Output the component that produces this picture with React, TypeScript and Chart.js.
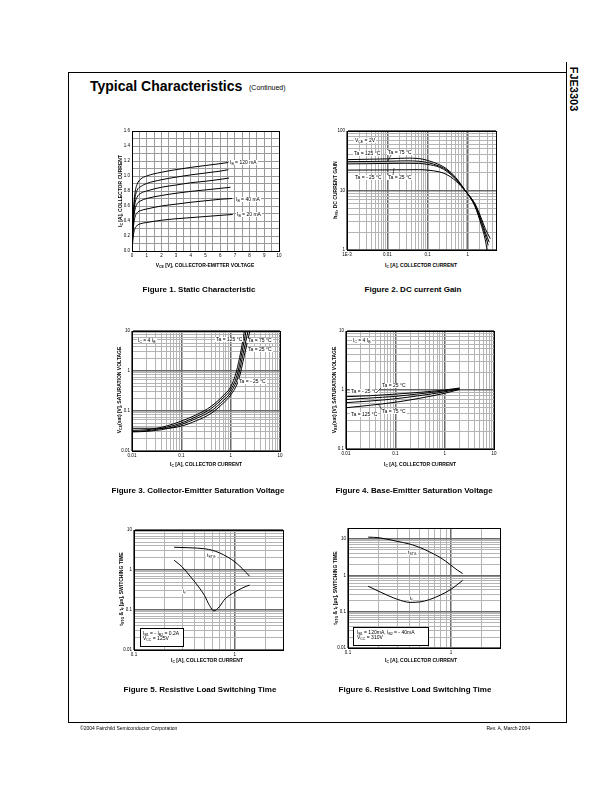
import React, { useEffect, useRef } from 'react';
import { Chart, registerables } from 'chart.js';
Chart.register(...registerables);

const FONT = '"Liberation Sans", Arial, Helvetica, sans-serif';

// ---------- Figure 1: Static characteristic ----------
const f1Vce = [0, 0.05, 0.1, 0.2, 0.35, 0.6, 1, 2, 3, 4, 5, 6];
const f1EndVce = [6.85, 6.8, 6.7, 6.6, 6.55, 6.55]; // IB = 20..120 mA
const f1Ib20 = [0, 0.12, 0.22, 0.3, 0.34, 0.365, 0.38, 0.41, 0.43, 0.445, 0.46, 0.475, 0.487];
const f1Ib40 = [0, 0.2, 0.33, 0.45, 0.51, 0.54, 0.56, 0.6, 0.625, 0.65, 0.67, 0.69, 0.7];
const f1Ib60 = [0, 0.25, 0.4, 0.55, 0.63, 0.67, 0.7, 0.74, 0.77, 0.795, 0.815, 0.835, 0.85];
const f1Ib80 = [0, 0.28, 0.45, 0.63, 0.72, 0.77, 0.8, 0.85, 0.88, 0.91, 0.93, 0.955, 0.973];
const f1Ib100 = [0, 0.3, 0.5, 0.7, 0.81, 0.86, 0.9, 0.95, 0.985, 1.015, 1.04, 1.065, 1.084];
const f1Ib120 = [0, 0.33, 0.55, 0.77, 0.89, 0.96, 1.0, 1.05, 1.085, 1.115, 1.14, 1.165, 1.18];
const f1XTicks = [0, 1, 2, 3, 4, 5, 6, 7, 8, 9, 10];
const f1XLabels = ['0', '1', '2', '3', '4', '5', '6', '7', '8', '9', '10'];
const f1YTicks = [0, 0.2, 0.4, 0.6, 0.8, 1.0, 1.2, 1.4, 1.6];
const f1YLabels = ['0.0', '0.2', '0.4', '0.6', '0.8', '1.0', '1.2', '1.4', '1.6'];

// ---------- Figure 2: DC current gain ----------
const f2Ic = [0.001, 0.003, 0.01, 0.03, 0.06, 0.1, 0.2, 0.3, 0.5, 0.86, 1.5, 2.2, 2.7];
const f2EndIc = [3.0, 3.2, 3.4, 3.6]; // 125, 75, 25, -25 °C
const f2H125 = [33, 33.5, 34, 35, 34.5, 32, 27, 23, 16.5, 10, 5.4, 2.5, 1.5, 1.0];
const f2H75 = [30.5, 30.7, 31, 31.5, 31, 29.5, 25.5, 22, 16, 10, 5.6, 2.8, 1.8, 1.2];
const f2H25 = [28, 28.2, 28.5, 28.7, 28.5, 27.5, 24.5, 21, 15.5, 10, 5.8, 3.0, 2.0, 1.35];
const f2Hm25 = [22, 22.1, 22.2, 22.3, 22.4, 22, 20.5, 18.5, 14.5, 9.8, 6.0, 3.3, 2.3, 1.55];
const f2XTicks = [0.001, 0.01, 0.1, 1];
const f2XLabels = ['1E-3', '0.01', '0.1', '1'];
const f2YTicks = [1, 10, 100];
const f2YLabels = ['1', '10', '100'];

// ---------- Figure 3: VCE(sat) ----------
const f3Ic125 = [0.01, 0.02, 0.05, 0.1, 0.2, 0.4, 0.7, 1, 1.3, 1.6, 1.9];
const f3V125 = [0.033, 0.034, 0.042, 0.056, 0.08, 0.13, 0.24, 0.4, 0.95, 3, 10];
const f3Ic75 = [0.01, 0.02, 0.05, 0.1, 0.2, 0.4, 0.7, 1, 1.35, 1.7, 2.05];
const f3V75 = [0.031, 0.032, 0.039, 0.05, 0.072, 0.115, 0.21, 0.34, 0.8, 3, 10];
const f3Ic25 = [0.01, 0.02, 0.05, 0.1, 0.2, 0.4, 0.7, 1, 1.4, 1.8, 2.25];
const f3V25 = [0.03, 0.031, 0.036, 0.046, 0.065, 0.1, 0.18, 0.29, 0.7, 2.8, 10];
const f3Icm25 = [0.01, 0.02, 0.05, 0.1, 0.2, 0.4, 0.7, 1, 1.45, 1.9, 2.45];
const f3Vm25 = [0.037, 0.037, 0.037, 0.042, 0.057, 0.087, 0.155, 0.25, 0.6, 2.5, 10];
const f3XTicks = [0.01, 0.1, 1, 10];
const f3XLabels = ['0.01', '0.1', '1', '10'];
const f3YTicks = [0.01, 0.1, 1, 10];
const f3YLabels = ['0.01', '0.1', '1', '10'];

// ---------- Figure 4: VBE(sat) ----------
const f4Ic = [0.01, 0.03, 0.1, 0.3, 1, 2];
const f4Vm25 = [0.77, 0.8, 0.85, 0.91, 1.0, 1.08];
const f4V25 = [0.69, 0.73, 0.78, 0.86, 0.97, 1.06];
const f4V75 = [0.61, 0.65, 0.71, 0.8, 0.93, 1.04];
const f4V125 = [0.5, 0.55, 0.62, 0.72, 0.88, 1.02];
const f4XTicks = [0.01, 0.1, 1, 10];
const f4XLabels = ['0.01', '0.1', '1', '10'];
const f4YTicks = [0.1, 1, 10];
const f4YLabels = ['0.1', '1', '10'];

// ---------- Figure 5: switching time (IB1 = -IB2 = 0.2A) ----------
const f5IcStg = [0.25, 0.35, 0.5, 0.6, 0.7, 0.85, 1, 1.2, 1.4];
const f5Tstg = [3.7, 3.6, 3.4, 3.1, 2.7, 2.1, 1.6, 1.05, 0.7];
const f5IcF = [0.25, 0.3, 0.36, 0.43, 0.5, 0.56, 0.62, 0.7, 0.8, 1, 1.2, 1.4];
const f5Tf = [1.75, 1.2, 0.7, 0.4, 0.23, 0.13, 0.095, 0.12, 0.19, 0.28, 0.36, 0.42];
const f5XTicks = [0.1, 1];
const f5XLabels = ['0.1', '1'];
const f5YTicks = [0.01, 0.1, 1, 10];
const f5YLabels = ['0.01', '0.1', '1', '10'];

// ---------- Figure 6: switching time (IB1 = 120mA, IB2 = -40mA) ----------
const f6IcStg = [0.157, 0.2, 0.3, 0.4, 0.5, 0.6, 0.8, 1, 1.15, 1.3];
const f6Tstg = [11.2, 10.8, 8.6, 7.2, 5.8, 4.6, 3, 1.9, 1.4, 1.12];
const f6IcF = [0.157, 0.2, 0.25, 0.3, 0.4, 0.5, 0.62, 0.8, 1, 1.15, 1.3];
const f6Tf = [0.5, 0.36, 0.27, 0.22, 0.18, 0.185, 0.215, 0.29, 0.41, 0.55, 0.72];
const f6XTicks = [0.1, 1];
const f6XLabels = ['0.1', '1'];
const f6YTicks = [0.01, 0.1, 1, 10];
const f6YLabels = ['0.01', '0.1', '1', '10'];

// ---------- helpers ----------
type Axis = { type: 'linear' | 'logarithmic'; min: number; max: number; grid: number[]; ticks: number[]; labels: string[] };
type Series = { x: number[]; y: number[] };

const linGrid = (min: number, max: number, step: number) => {
  const a: number[] = [];
  for (let i = 0; min + i * step <= max + 1e-9; i++) a.push(+(min + i * step).toFixed(6));
  return a;
};
const logGrid = (min: number, max: number) => {
  const a: number[] = [];
  for (let e = Math.floor(Math.log10(min)); e <= Math.ceil(Math.log10(max)); e++)
    for (let m = 1; m < 10; m++) {
      const v = +(m * Math.pow(10, e)).toPrecision(6);
      if (v >= min * (1 - 1e-9) && v <= max * (1 + 1e-9)) a.push(v);
    }
  return a;
};
const isDecade = (v: number) => Math.abs(Math.log10(v) - Math.round(Math.log10(v))) < 1e-6;
const zip = (xs: number[], ys: number[]) => xs.map((x, i) => ({ x, y: ys[i] }));

const PAD_L = 18, PAD_R = 8, PAD_T = 6, PAD_B = 10;

function Plot(p: { left: number; top: number; w: number; h: number; xa: Axis; ya: Axis; series: Series[] }) {
  const ref = useRef<HTMLCanvasElement>(null);
  const cw = p.w + PAD_L + PAD_R;
  const ch = p.h + PAD_T + PAD_B;
  useEffect(() => {
    const mkAxis = (a: Axis, isX: boolean) => ({
      type: a.type,
      min: a.min,
      max: a.max,
      position: isX ? 'bottom' : 'left',
      afterBuildTicks: (s: any) => {
        s.ticks = a.grid.map((v) => ({ value: v }));
      },
      afterFit: (s: any) => {
        if (isX) s.height = PAD_B;
        else s.width = PAD_L;
      },
      ticks: {
        autoSkip: false,
        maxRotation: 0,
        minRotation: 0,
        padding: 2,
        color: '#000',
        font: { family: FONT, size: 4.5 },
        callback: (v: any) => {
          const n = Number(v);
          const i = a.ticks.findIndex((t) => Math.abs(t - n) <= Math.abs(t) * 1e-6 + 1e-9);
          return i >= 0 ? a.labels[i] : '';
        },
      },
      grid: {
        drawTicks: false,
        color: (c: any) => {
          if (a.type === 'linear') return '#9a9a9a';
          const v = c.tick ? c.tick.value : 1;
          return isDecade(v) ? '#6a6a6a' : '#b4b4b4';
        },
        lineWidth: (c: any) => {
          if (a.type === 'linear') return 1;
          const v = c.tick ? c.tick.value : 1;
          return isDecade(v) ? 1.5 : 1;
        },
      },
      border: { display: true, color: '#000', width: 1 },
    });
    const frame = {
      id: 'frame',
      afterDraw(c: any) {
        const { left, top, right, bottom } = c.chartArea;
        const ctx = c.ctx;
        ctx.save();
        ctx.strokeStyle = '#000';
        ctx.lineWidth = 1;
        ctx.strokeRect(Math.round(left) + 0.5, Math.round(top) + 0.5, Math.round(right - left), Math.round(bottom - top));
        ctx.restore();
      },
    };
    const chart = new Chart(ref.current as HTMLCanvasElement, {
      type: 'line',
      data: {
        datasets: p.series.map((s) => ({
          data: zip(s.x, s.y),
          borderColor: '#000',
          borderWidth: 1,
          pointRadius: 0,
          fill: false,
          cubicInterpolationMode: 'monotone',
        })),
      },
      options: {
        responsive: false,
        animation: false,
        layout: { padding: { top: PAD_T, right: PAD_R, left: 0, bottom: 0 } },
        plugins: { legend: { display: false }, tooltip: { enabled: false }, title: { display: false } },
        scales: { x: mkAxis(p.xa, true), y: mkAxis(p.ya, false) } as any,
      } as any,
      plugins: [frame],
    } as any);
    return () => chart.destroy();
  }, []);
  return (
    <canvas
      ref={ref}
      width={cw}
      height={ch}
      style={{ position: 'absolute', left: p.left - PAD_L, top: p.top - PAD_T, width: cw, height: ch }}
    />
  );
}

const Sub = ({ c }: { c: string }) => (
  <sub style={{ fontSize: '0.7em', verticalAlign: '-0.3em', lineHeight: 0 }}>{c}</sub>
);

function Txt(props: {
  x: number; y: number; size?: number; bold?: boolean; bg?: boolean; align?: 'left' | 'center' | 'right';
  children: React.ReactNode; style?: React.CSSProperties;
}) {
  const size = props.size ?? 5;
  const align = props.align ?? 'left';
  const tx = align === 'center' ? 'translateX(-50%)' : align === 'right' ? 'translateX(-100%)' : '';
  return (
    <div
      style={{
        position: 'absolute',
        left: props.x,
        top: props.y - size / 2,
        fontSize: size,
        lineHeight: 1,
        fontFamily: FONT,
        fontWeight: props.bold ? 'bold' : 'normal',
        whiteSpace: 'nowrap',
        background: props.bg ? '#fff' : 'transparent',
        padding: props.bg ? '0 1px' : 0,
        transform: tx,
        color: '#000',
        ...props.style,
      }}
    >
      {props.children}
    </div>
  );
}

function VTitle(props: { x: number; y: number; children: React.ReactNode }) {
  return (
    <div
      style={{
        position: 'absolute',
        left: props.x,
        top: props.y,
        fontSize: 5,
        lineHeight: 1,
        fontFamily: FONT,
        fontWeight: 'bold',
        whiteSpace: 'nowrap',
        transform: 'translate(-50%, -50%) rotate(-90deg)',
      }}
    >
      {props.children}
    </div>
  );
}

const Line = (p: { x: number; y: number; w: number; h: number }) => (
  <div style={{ position: 'absolute', left: p.x, top: p.y, width: p.w, height: p.h, background: '#000' }} />
);

// leader lines from annotation labels to the curves (page coordinates)
const leaders: [number, number, number, number][] = [
  [391, 155, 388, 161],
  [393, 175, 394, 168],
  [381, 388, 377, 392],
  [382, 409.5, 378, 404],
];

export default function App() {
  const f1x = (i: number) => [...f1Vce, f1EndVce[i]];
  const f2x = (i: number) => [...f2Ic, f2EndIc[i]];
  return (
    <div style={{ position: 'absolute', left: 0, top: 0, width: 612, height: 792, background: '#fff', overflow: 'hidden' }}>
      {/* page frame */}
      <Line x={68} y={72} w={498} h={1} />
      <Line x={68} y={72} w={1} h={651} />
      <Line x={566} y={62} w={1} h={661} />
      <Line x={68} y={722} w={499} h={1} />
      <div
        style={{
          position: 'absolute', left: 573, top: 89, fontFamily: FONT, fontWeight: 'bold', fontSize: 11,
          lineHeight: 1, whiteSpace: 'nowrap', transform: 'translate(-50%, -50%) rotate(90deg)',
        }}
      >
        FJE3303
      </div>
      <div style={{ position: 'absolute', left: 90, top: 79, fontFamily: FONT, fontWeight: 'bold', fontSize: 14, lineHeight: 1, whiteSpace: 'nowrap' }}>
        Typical Characteristics
      </div>
      <div style={{ position: 'absolute', left: 249, top: 84, fontFamily: FONT, fontSize: 7, lineHeight: 1, whiteSpace: 'nowrap', color: '#000' }}>
        (Continued)
      </div>

      {/* Figure 1 */}
      <Plot
        left={132} top={131} w={147} h={120}
        xa={{ type: 'linear', min: 0, max: 10, grid: linGrid(0, 10, 0.5), ticks: f1XTicks, labels: f1XLabels }}
        ya={{ type: 'linear', min: 0, max: 1.6, grid: linGrid(0, 1.6, 0.1), ticks: f1YTicks, labels: f1YLabels }}
        series={[
          { x: f1x(0), y: f1Ib20 }, { x: f1x(1), y: f1Ib40 }, { x: f1x(2), y: f1Ib60 },
          { x: f1x(3), y: f1Ib80 }, { x: f1x(4), y: f1Ib100 }, { x: f1x(5), y: f1Ib120 },
        ]}
      />
      <Txt x={229} y={162.5} bg>I<Sub c="B" /> = 120 mA</Txt>
      <Txt x={235} y={199} bg>I<Sub c="B" /> = 40 mA</Txt>
      <Txt x={236} y={214.5} bg>I<Sub c="B" /> = 20 mA</Txt>
      <Txt x={205} y={265} bold align="center">V<Sub c="CE" /> [V], COLLECTOR-EMITTER VOLTAGE</Txt>
      <VTitle x={120} y={191}>I<Sub c="C" /> [A], COLLECTOR CURRENT</VTitle>
      <Txt x={199} y={290} size={8} bold align="center">Figure 1. Static Characteristic</Txt>

      {/* Figure 2 */}
      <Plot
        left={347} top={131} w={149} h={119}
        xa={{ type: 'logarithmic', min: 0.001, max: 5, grid: logGrid(0.001, 5), ticks: f2XTicks, labels: f2XLabels }}
        ya={{ type: 'logarithmic', min: 1, max: 100, grid: logGrid(1, 100), ticks: f2YTicks, labels: f2YLabels }}
        series={[
          { x: f2x(0), y: f2H125 }, { x: f2x(1), y: f2H75 }, { x: f2x(2), y: f2H25 }, { x: f2x(3), y: f2Hm25 },
        ]}
      />
      <Txt x={354} y={140} bg>V<Sub c="CE" /> = 2V</Txt>
      <Txt x={353} y={153} bg>Ta = 125 °C</Txt>
      <Txt x={387} y={152} bg>Ta = 75 °C</Txt>
      <Txt x={354} y={177} bg>Ta = - 25 °C</Txt>
      <Txt x={387} y={177.5} bg>Ta = 25 °C</Txt>
      <Txt x={421} y={265} bold align="center">I<Sub c="C" /> [A], COLLECTOR CURRENT</Txt>
      <VTitle x={335} y={190}>h<Sub c="FE" />, DC CURRENT GAIN</VTitle>
      <Txt x={413} y={290} size={8} bold align="center">Figure 2. DC current Gain</Txt>

      {/* Figure 3 */}
      <Plot
        left={132} top={331} w={148} h={120}
        xa={{ type: 'logarithmic', min: 0.01, max: 10, grid: logGrid(0.01, 10), ticks: f3XTicks, labels: f3XLabels }}
        ya={{ type: 'logarithmic', min: 0.01, max: 10, grid: logGrid(0.01, 10), ticks: f3YTicks, labels: f3YLabels }}
        series={[
          { x: f3Ic125, y: f3V125 }, { x: f3Ic75, y: f3V75 }, { x: f3Ic25, y: f3V25 }, { x: f3Icm25, y: f3Vm25 },
        ]}
      />
      <Txt x={137} y={340.5} bg>I<Sub c="C" /> = 4 I<Sub c="B" /></Txt>
      <Txt x={215} y={339} bg>Ta = 125 °C</Txt>
      <Txt x={247} y={340} bg>Ta = 75 °C</Txt>
      <Txt x={247} y={349} bg>Ta = 25 °C</Txt>
      <Txt x={238} y={381.7} bg>Ta = - 25 °C</Txt>
      <Txt x={206} y={464} bold align="center">I<Sub c="C" /> [A], COLLECTOR CURRENT</Txt>
      <VTitle x={119} y={390}>V<Sub c="CE" />(sat) [V], SATURATION VOLTAGE</VTitle>
      <Txt x={198} y={491} size={8} bold align="center">Figure 3. Collector-Emitter Saturation Voltage</Txt>

      {/* Figure 4 */}
      <Plot
        left={346} top={331} w={148} h={118}
        xa={{ type: 'logarithmic', min: 0.01, max: 10, grid: logGrid(0.01, 10), ticks: f4XTicks, labels: f4XLabels }}
        ya={{ type: 'logarithmic', min: 0.1, max: 10, grid: logGrid(0.1, 10), ticks: f4YTicks, labels: f4YLabels }}
        series={[
          { x: f4Ic, y: f4Vm25 }, { x: f4Ic, y: f4V25 }, { x: f4Ic, y: f4V75 }, { x: f4Ic, y: f4V125 },
        ]}
      />
      <Txt x={352} y={340} bg>I<Sub c="C" /> = 4 I<Sub c="B" /></Txt>
      <Txt x={350} y={391} bg>Ta = - 25 °C</Txt>
      <Txt x={381} y={385.5} bg>Ta = 25 °C</Txt>
      <Txt x={350} y={414} bg>Ta = 125 °C</Txt>
      <Txt x={381} y={411.5} bg>Ta = 75 °C</Txt>
      <Txt x={420} y={464} bold align="center">I<Sub c="C" /> [A], COLLECTOR CURRENT</Txt>
      <VTitle x={334} y={390}>V<Sub c="BE" />(sat) [V], SATURATION VOLTAGE</VTitle>
      <Txt x={414} y={491} size={8} bold align="center">Figure 4. Base-Emitter Saturation Voltage</Txt>

      {/* Figure 5 */}
      <Plot
        left={134} top={530} w={149} h={120}
        xa={{ type: 'logarithmic', min: 0.1, max: 3, grid: logGrid(0.1, 3), ticks: f5XTicks, labels: f5XLabels }}
        ya={{ type: 'logarithmic', min: 0.01, max: 10, grid: logGrid(0.01, 10), ticks: f5YTicks, labels: f5YLabels }}
        series={[{ x: f5IcStg, y: f5Tstg }, { x: f5IcF, y: f5Tf }]}
      />
      <Txt x={206} y={555} bg>t<Sub c="STG" /></Txt>
      <Txt x={182} y={591} bg>t<Sub c="f" /></Txt>
      <div style={{ position: 'absolute', left: 140, top: 628, width: 42, height: 17, background: '#fff', border: '0.5px solid #000' }} />
      <Txt x={143} y={633}>I<Sub c="B1" /> = - I<Sub c="B2" /> = 0.2A</Txt>
      <Txt x={143} y={638.5}>V<Sub c="CC" /> = 125V</Txt>
      <Txt x={207} y={660} bold align="center">I<Sub c="C" /> [A], COLLECTOR CURRENT</Txt>
      <VTitle x={121} y={589}>t<Sub c="STG" /> &amp; t<Sub c="f" /> [μs], SWITCHING TIME</VTitle>
      <Txt x={200} y={690} size={8} bold align="center">Figure 5. Resistive Load Switching Time</Txt>

      {/* Figure 6 */}
      <Plot
        left={348} top={528} w={152} h={120}
        xa={{ type: 'logarithmic', min: 0.1, max: 3, grid: logGrid(0.1, 3), ticks: f6XTicks, labels: f6XLabels }}
        ya={{ type: 'logarithmic', min: 0.01, max: 20, grid: logGrid(0.01, 20), ticks: f6YTicks, labels: f6YLabels }}
        series={[{ x: f6IcStg, y: f6Tstg }, { x: f6IcF, y: f6Tf }]}
      />
      <Txt x={407} y={552} bg>t<Sub c="STG" /></Txt>
      <Txt x={409} y={598} bg>t<Sub c="f" /></Txt>
      <div style={{ position: 'absolute', left: 353, top: 627, width: 74, height: 17, background: '#fff', border: '0.5px solid #000' }} />
      <Txt x={357} y={632.5}>I<Sub c="B1" /> = 120mA, I<Sub c="B2" /> = - 40mA</Txt>
      <Txt x={357} y={637.5}>V<Sub c="CC" /> = 310V</Txt>
      <Txt x={421} y={660} bold align="center">I<Sub c="C" /> [A], COLLECTOR CURRENT</Txt>
      <VTitle x={335} y={588}>t<Sub c="STG" /> &amp; t<Sub c="f" /> [μs], SWITCHING TIME</VTitle>
      <Txt x={415} y={690} size={8} bold align="center">Figure 6. Resistive Load Switching Time</Txt>

      <svg width={612} height={792} style={{ position: 'absolute', left: 0, top: 0, pointerEvents: 'none' }}>
        {leaders.map(([x1, y1, x2, y2], i) => (
          <line key={i} x1={x1} y1={y1} x2={x2} y2={y2} stroke="#000" strokeWidth={0.6} />
        ))}
      </svg>

      {/* footer */}
      <Txt x={80} y={728} size={5}>©2004 Fairchild Semiconductor Corporation</Txt>
      <Txt x={530} y={728} size={5} align="right">Rev. A, March 2004</Txt>
    </div>
  );
}
